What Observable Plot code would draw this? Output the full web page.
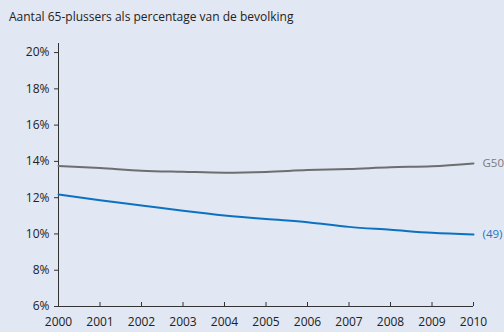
<!DOCTYPE html>
<html>
<head>
<meta charset="utf-8">
<script src="https://cdn.jsdelivr.net/npm/d3@7"></script>
<script src="https://cdn.jsdelivr.net/npm/@observablehq/plot@0.6"></script>
<style>
  html, body { margin: 0; padding: 0; background: #e1e7f3; }
  body { width: 504px; height: 332px; overflow: hidden; font-family: "Open Sans", sans-serif; }
  #title { height: 32px; box-sizing: border-box; padding: 8px 0 0 9px; font-size: 12px; color: #222; }
</style>
</head>
<body>
<div id="title">Aantal 65-plussers als percentage van de bevolking</div>
<div id="chart"></div>
<script>
const years = [2000, 2001, 2002, 2003, 2004, 2005, 2006, 2007, 2008, 2009, 2010];
const g50 = [13.74, 13.63, 13.49, 13.43, 13.38, 13.42, 13.52, 13.58, 13.68, 13.73, 13.89];
const gem49 = [12.18, 11.86, 11.57, 11.28, 11.02, 10.82, 10.65, 10.39, 10.23, 10.06, 9.97];
const seriesNames = ["G50", "(49)"];
const seriesColors = ["#6e6e6e", "#0b72c1"];
const labelColors = ["#7a7a7a", "#1878c6"];
const yTicks = [6, 8, 10, 12, 14, 16, 18, 20];

const rows = [];
years.forEach((y, i) => {
  rows.push({year: y, value: g50[i], series: seriesNames[0]});
  rows.push({year: y, value: gem49[i], series: seriesNames[1]});
});
const last = seriesNames.map((s, k) => ({year: years[years.length - 1], value: [g50, gem49][k][years.length - 1], series: s}));

const chart = Plot.plot({
  width: 504,
  height: 300,
  marginTop: 11,
  marginBottom: 26,
  marginLeft: 58,
  marginRight: 31,
  style: {background: "transparent", fontFamily: "Open Sans, sans-serif", fontSize: "12px", color: "#222"},
  x: {domain: [2000, 2010]},
  y: {domain: [6, 20.5]},
  color: {domain: seriesNames, range: seriesColors},
  marks: [
    Plot.axisY({ticks: yTicks, tickFormat: d => d + "%", tickSize: 4, tickPadding: 5, label: null, stroke: "#333", fontSize: 12}),
    Plot.axisX({ticks: years, tickFormat: d => String(d), tickSize: -4, tickPadding: 15, label: null, stroke: "#333", fontSize: 12}),
    Plot.ruleX([2000], {stroke: "#333", y1: 6, y2: 20.5}),
    Plot.ruleY([6], {stroke: "#333"}),
    Plot.line(rows, {x: "year", y: "value", z: "series", stroke: "series", strokeWidth: 2, curve: "monotone-x"}),
    Plot.text(last, {x: "year", y: "value", text: "series", fill: (d) => labelColors[seriesNames.indexOf(d.series)], textAnchor: "start", dx: 9, fontSize: 11.5})
  ]
});
document.getElementById("chart").appendChild(chart);
</script>
</body>
</html>
